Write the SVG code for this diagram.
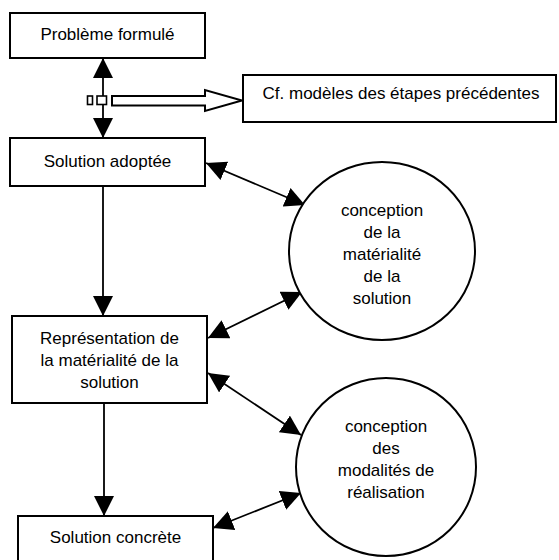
<svg xmlns="http://www.w3.org/2000/svg" width="559" height="560" viewBox="0 0 559 560">
<defs>
<style>
.box{fill:#fff;stroke:#000;stroke-width:2}
.ell{fill:#fff;stroke:#000;stroke-width:2}
.ln{fill:none;stroke:#000;stroke-width:1.8}
text{font-family:"Liberation Sans",Arial,sans-serif;font-size:17px;fill:#000;text-anchor:middle}
</style>
<marker id="ah" markerUnits="userSpaceOnUse" markerWidth="20" markerHeight="20" viewBox="0 0 20 20" refX="20" refY="10" orient="auto-start-reverse">
<path d="M0,0 L20,10 L0,20 Z" fill="#000"/>
</marker>
</defs>
<rect x="0" y="0" width="559" height="560" fill="#fff"/>
<g id="connectors">
<line class="ln" x1="103" y1="58" x2="103" y2="138" marker-start="url(#ah)" marker-end="url(#ah)"/>
<line class="ln" x1="103" y1="186" x2="103" y2="316" marker-end="url(#ah)"/>
<line class="ln" x1="104" y1="403" x2="104" y2="516" marker-end="url(#ah)"/>
<line class="ln" x1="206" y1="163" x2="305" y2="205" marker-start="url(#ah)" marker-end="url(#ah)"/>
<line class="ln" x1="208" y1="338" x2="302" y2="292" marker-start="url(#ah)" marker-end="url(#ah)"/>
<line class="ln" x1="208" y1="373" x2="301" y2="435" marker-start="url(#ah)" marker-end="url(#ah)"/>
<line class="ln" x1="213" y1="528" x2="301" y2="493" marker-start="url(#ah)" marker-end="url(#ah)"/>
<rect class="box" x="87.5" y="96" width="5" height="8.5" style="stroke-width:1.6"/>
<rect class="box" x="97" y="96" width="9.5" height="8.5" style="stroke-width:1.6"/>
<polygon class="box" points="112,96 205,96 205,90 242,100.5 205,111 205,105.5 112,105.5"/>
</g>
<g id="n-probleme">
<rect class="box" x="10" y="13" width="195" height="45"/>
<text x="107.5" y="40">Problème formulé</text>
</g>
<g id="n-cf">
<rect class="box" x="243" y="75" width="313" height="47"/>
<text x="401" y="99">Cf. modèles des étapes précédentes</text>
</g>
<g id="n-adoptee">
<rect class="box" x="10" y="138" width="195" height="48"/>
<text x="107.5" y="167">Solution adoptée</text>
</g>
<g id="n-representation">
<rect class="box" x="12" y="316" width="195" height="87"/>
<text x="109.5" y="343.5">Représentation de</text>
<text x="109.5" y="365.5">la matérialité de la</text>
<text x="109.5" y="387.5">solution</text>
</g>
<g id="n-concrete">
<rect class="box" x="18" y="516" width="195" height="50"/>
<text x="115.5" y="543">Solution concrète</text>
</g>
<g id="n-conception-materialite">
<ellipse class="ell" cx="382" cy="251" rx="93" ry="89"/>
<text x="382" y="216">conception</text>
<text x="382" y="238">de la</text>
<text x="382" y="260">matérialité</text>
<text x="382" y="282">de la</text>
<text x="382" y="304">solution</text>
</g>
<g id="n-conception-modalites">
<ellipse class="ell" cx="386" cy="467" rx="90" ry="89"/>
<text x="386" y="432">conception</text>
<text x="386" y="454">des</text>
<text x="386" y="476">modalités de</text>
<text x="386" y="498">réalisation</text>
</g>
</svg>
